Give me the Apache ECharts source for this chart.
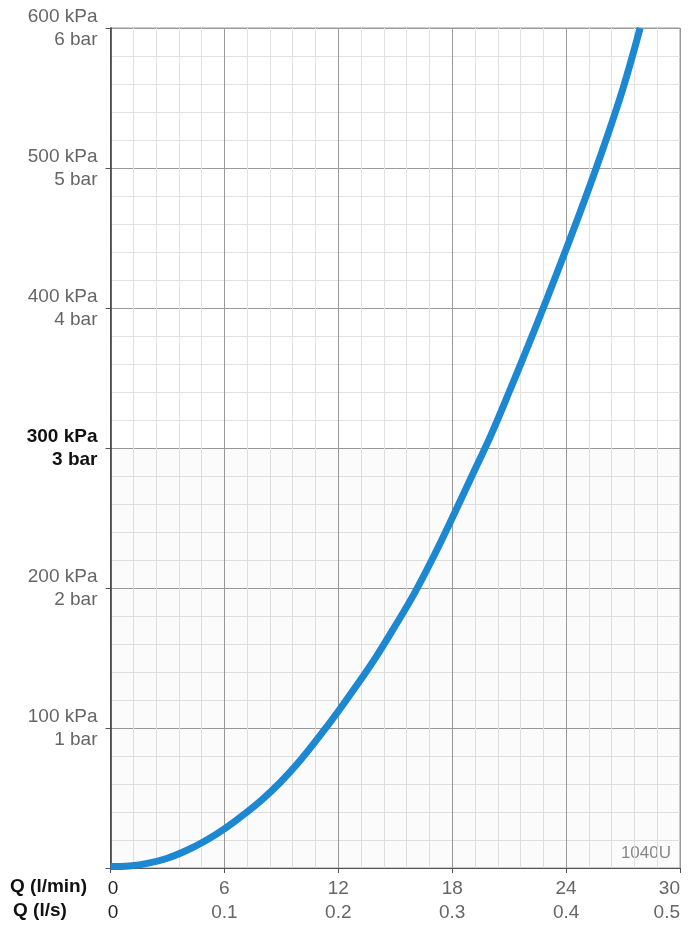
<!DOCTYPE html>
<html><head><meta charset="utf-8">
<script src="https://cdn.jsdelivr.net/npm/echarts@6/dist/echarts.min.js"></script>
<style>html,body{margin:0;padding:0;background:#fff}#c{width:694px;height:934px}</style>
</head><body><div id="c"></div>
<script>
// Flow Q (l/min) and pressure drop (kPa)
const flowLmin = [0, 1, 2, 3, 4, 5, 6, 7, 8, 9, 10, 11, 12, 13, 14, 15, 16, 17, 18, 19, 20, 21, 22, 23, 24, 25, 26, 27, 27.9];
const pressureKpa = [1, 1.5, 3.5, 7, 12.5, 19.5, 28, 38, 49, 62, 77, 94, 112, 131, 151, 173, 196, 222, 250, 279, 308, 340, 373, 407, 442, 478, 516, 557, 600];
const yTickValues = [100, 200, 300, 400, 500, 600];
const yTickKpa = ['100 kPa', '200 kPa', '300 kPa', '400 kPa', '500 kPa', '600 kPa'];
const yTickBar = ['1 bar', '2 bar', '3 bar', '4 bar', '5 bar', '6 bar'];
const highlightValue = 300;
const xTickValues = [0, 6, 12, 18, 24, 30];
const xTickLmin = ['0', '6', '12', '18', '24', '30'];
const xTickLs = ['0', '0.1', '0.2', '0.3', '0.4', '0.5'];
const modelName = '1040U';

const chart = echarts.init(document.getElementById('c'));
const FONT = '"Liberation Sans", Arial, sans-serif';
chart.setOption({
  animation: false,
  grid: { left: 110.5, right: 14, top: 28, bottom: 66, show: true, borderColor: '#9a9a9a', borderWidth: 1 },
  xAxis: {
    type: 'value', min: 0, max: 30, interval: 6,
    axisLine: { show: true, lineStyle: { color: '#555', width: 1.2 } },
    axisTick: { show: true, length: 5, lineStyle: { color: '#555' } },
    minorTick: { show: false, splitNumber: 5 },
    splitLine: { show: true, lineStyle: { color: '#9a9a9a', width: 1 } },
    minorSplitLine: { show: true, lineStyle: { color: '#e2e2e2', width: 1 } },
    axisLabel: {
      margin: 9, alignMaxLabel: 'right',
      fontFamily: FONT, fontSize: 19, color: '#666', lineHeight: 24,
      formatter: function (v) {
        const i = xTickValues.indexOf(v);
        if (i < 0) return '';
        const c = i === 0 ? '{k|' : '{n|';
        return c + xTickLmin[i] + '}\n' + c + xTickLs[i] + '}';
      },
      rich: {
        n: { fontFamily: FONT, fontSize: 19, color: '#666', lineHeight: 24 },
        k: { fontFamily: FONT, fontSize: 19, color: '#222', lineHeight: 24, padding: [0, 0, 0, 5] }
      }
    }
  },
  yAxis: {
    type: 'value', min: 0, max: 600, interval: 100,
    axisLine: { show: true, lineStyle: { color: '#333', width: 1.5 } },
    axisTick: { show: true, length: 5, lineStyle: { color: '#555' } },
    minorTick: { show: false, splitNumber: 5 },
    splitLine: { show: true, lineStyle: { color: '#9a9a9a', width: 1 } },
    minorSplitLine: { show: true, lineStyle: { color: '#e2e2e2', width: 1 } },
    axisLabel: {
      margin: 13, align: 'right',
      fontFamily: FONT, fontSize: 19, color: '#666', lineHeight: 23,
      formatter: function (v) {
        const i = yTickValues.indexOf(v);
        if (i < 0) return '';
        const c = v === highlightValue ? '{b|' : '{n|';
        return c + yTickKpa[i] + '}\n' + c + yTickBar[i] + '}';
      },
      rich: {
        n: { fontFamily: FONT, fontSize: 19, color: '#666', lineHeight: 23, align: 'right' },
        b: { fontFamily: FONT, fontSize: 19, color: '#111', fontWeight: 'bold', lineHeight: 23, align: 'right' }
      }
    }
  },
  series: [{
    type: 'line',
    data: flowLmin.map((x, i) => [x, pressureKpa[i]]),
    smooth: 0.4, showSymbol: false,
    lineStyle: { color: '#1c88d1', width: 7 },
    z: 5,
    markArea: {
      silent: true,
      itemStyle: { color: 'rgba(0,0,0,0.015)' },
      data: [[{ xAxis: 0, yAxis: 0 }, { xAxis: 30, yAxis: highlightValue }]]
    }
  }],
  graphic: [
    { type: 'text', left: 10, top: 877, style: { text: 'Q (l/min)', font: 'bold 19px ' + FONT, fill: '#111' } },
    { type: 'text', left: 13, top: 901, style: { text: 'Q (l/s)', font: 'bold 19px ' + FONT, fill: '#111' } },
    { type: 'text', right: 23, top: 845, style: { text: modelName, font: '17px ' + FONT, fill: '#8a8a8a' } }
  ]
});
</script></body></html>
